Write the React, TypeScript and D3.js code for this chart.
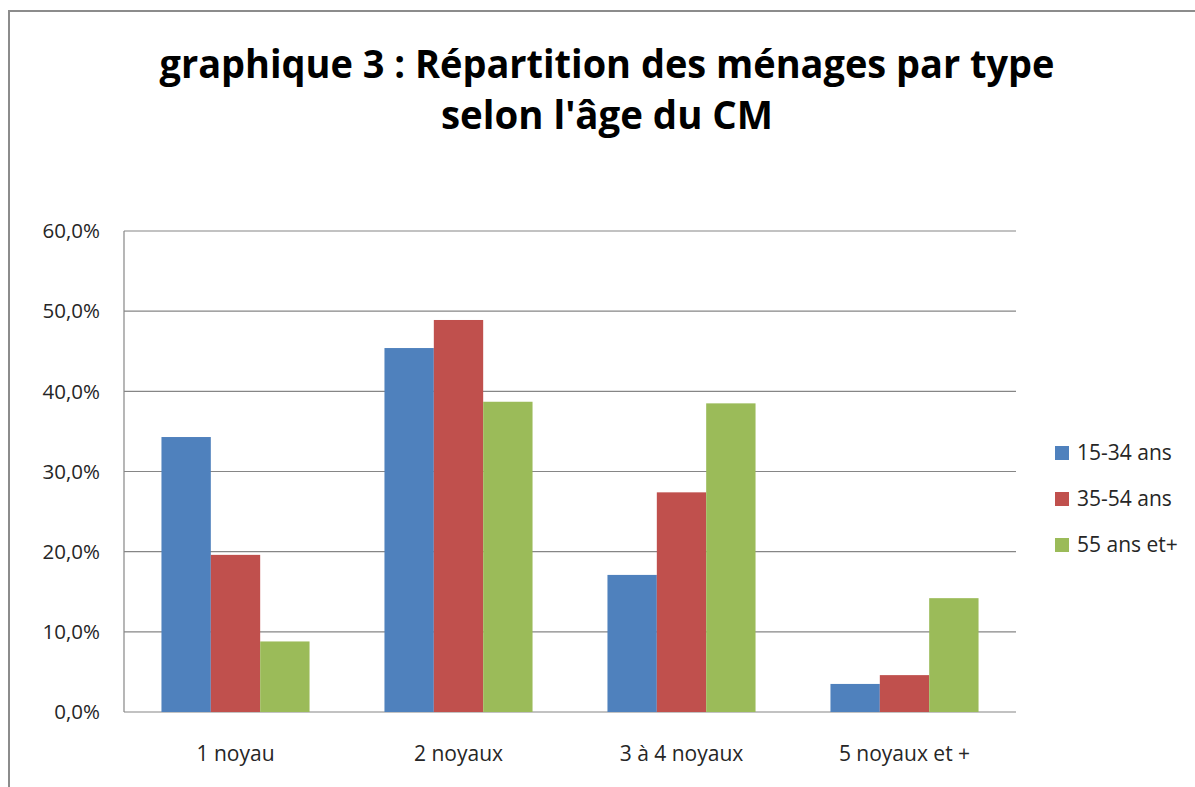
import * as d3 from "d3";

const categories = ["1 noyau", "2 noyaux", "3 à 4 noyaux", "5 noyaux et +"];
const seriesNames = ["15-34 ans", "35-54 ans", "55 ans et+"];
const age15_34 = [34.3, 45.4, 17.1, 3.5];
const age35_54 = [19.6, 48.9, 27.4, 4.6];
const age55plus = [8.8, 38.7, 38.5, 14.2];
const yTicks = [0, 10, 20, 30, 40, 50, 60];
const titleLines = ["graphique 3 : Répartition des ménages par type", "selon l'âge du CM"];

const colors = ["#4F81BD", "#C0504D", "#9BBB59"];
const seriesValues = [age15_34, age35_54, age55plus];

const W = 1195;
const H = 787;
const plot = { left: 124, right: 1016, top: 231, bottom: 712 };
const font = "'Open Sans', 'Noto Sans', sans-serif";
// measured widths of the title lines in the reference
const titleWidths = [895, 332];

export default function App() {
  const x0 = d3
    .scaleBand<string>()
    .domain(categories)
    .range([plot.left, plot.right])
    .paddingInner(0.336)
    .paddingOuter(0.168);

  const x1 = d3
    .scaleBand<number>()
    .domain(d3.range(seriesNames.length))
    .range([0, x0.bandwidth()]);

  const y = d3.scaleLinear().domain([0, 60]).range([plot.bottom, plot.top]);

  const fmt = (v: number) => v.toFixed(1).replace(".", ",") + "%";

  return (
    <svg
      width={W}
      height={H}
      style={{ position: "absolute", left: 0, top: 0, background: "#fff" }}
      fontFamily={font}
    >
      {/* chart frame */}
      <rect x={9} y={11} width={W} height={H} fill="#fff" stroke="#8c8c8c" strokeWidth={2} />

      {/* title */}
      {titleLines.map((t, i) => (
        <text
          key={i}
          x={607}
          y={78 + i * 51}
          textAnchor="middle"
          fontSize={40}
          fontWeight={700}
          fill="#000"
          textLength={titleWidths[i]}
          lengthAdjust="spacingAndGlyphs"
        >
          {t}
        </text>
      ))}

      {/* grid */}
      {yTicks.map((t) => (
        <g key={t}>
          <line
            x1={plot.left}
            x2={plot.right}
            y1={y(t)}
            y2={y(t)}
            stroke="#868686"
            strokeWidth={1.2}
          />
          <text
            x={100}
            y={y(t)}
            dy="0.35em"
            textAnchor="end"
            fontSize={20.5}
            fill="#262626"
          >
            {fmt(t)}
          </text>
        </g>
      ))}
      <line
        x1={plot.left}
        x2={plot.left}
        y1={plot.top}
        y2={plot.bottom}
        stroke="#868686"
        strokeWidth={1.2}
      />

      {/* bars */}
      {categories.map((c, ci) => (
        <g key={c} transform={`translate(${x0(c)},0)`}>
          {seriesValues.map((vals, si) => (
            <rect
              key={si}
              x={x1(si)}
              y={y(vals[ci])}
              width={x1.bandwidth()}
              height={plot.bottom - y(vals[ci])}
              fill={colors[si]}
            />
          ))}
        </g>
      ))}

      {/* x labels */}
      {categories.map((c) => (
        <text
          key={c}
          x={(x0(c) ?? 0) + x0.bandwidth() / 2}
          y={761}
          textAnchor="middle"
          fontSize={21}
          fill="#262626"
        >
          {c}
        </text>
      ))}

      {/* legend */}
      {seriesNames.map((s, i) => (
        <g key={s} transform={`translate(1055,${453 + i * 46})`}>
          <rect x={0} y={-7} width={14} height={14} fill={colors[i]} />
          <text x={22} y={0} dy="0.35em" fontSize={21} fill="#262626">
            {s}
          </text>
        </g>
      ))}
    </svg>
  );
}
